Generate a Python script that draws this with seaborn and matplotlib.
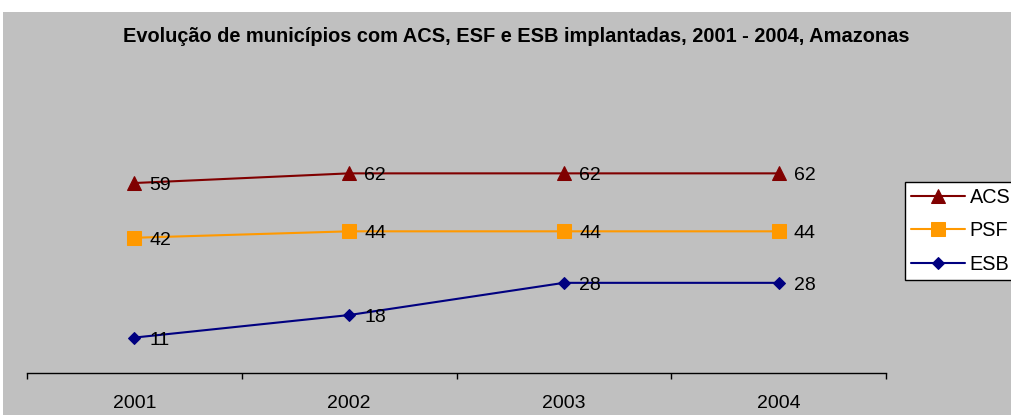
import matplotlib
matplotlib.use('Agg')
import matplotlib.pyplot as plt
from matplotlib.patches import Rectangle
import pandas as pd
import seaborn as sns

years = ['2001', '2002', '2003', '2004']
acs = [59, 62, 62, 62]
psf = [42, 44, 44, 44]
esb = [11, 18, 28, 28]
series_names = ['ACS', 'PSF', 'ESB']

df = pd.DataFrame({
    'pos': list(range(len(years))) * 3,
    'valor': acs + psf + esb,
    'serie': [s for s in series_names for _ in years],
})

sns.set_style('white')
plt.rcParams['font.family'] = ['Liberation Sans', 'DejaVu Sans']
plt.rcParams['text.color'] = 'black'
plt.rcParams['xtick.color'] = 'black'

colors = {'ACS': '#800000', 'PSF': '#FF9900', 'ESB': '#000080'}
markers = {'ACS': '^', 'PSF': 's', 'ESB': 'D'}
msizes = {'ACS': 10, 'PSF': 10, 'ESB': 6.3}

fig = plt.figure(figsize=(10.11, 4.15), dpi=100, facecolor='white')
fig.patches.append(Rectangle((3 / 1011, 0), 1, 1 - 12 / 415, transform=fig.transFigure,
                             facecolor='#C0C0C0', edgecolor='none', zorder=-5))
ax = fig.add_axes([27 / 1011, 1 - 373 / 415, 859 / 1011, 322 / 415])
ax.set_facecolor('none')
ax.set_zorder(1)

for s in series_names:
    d = df[df['serie'] == s]
    sns.lineplot(data=d, x='pos', y='valor', ax=ax, color=colors[s], marker=markers[s],
                 markersize=msizes[s], markeredgecolor=colors[s], linewidth=1.5, label=s)
    for x, y in zip(d['pos'], d['valor']):
        ax.annotate(str(y), (x, y), xytext=(11, -5), textcoords='offset points',
                    ha='left', va='baseline', fontsize=14, color='black')

ax.set_xlim(-0.5, 3.5)
ax.set_ylim(0, 100)
ax.set_xticks([-0.5, 0.5, 1.5, 2.5, 3.5])
ax.set_xticklabels([])
ax.set_xticks(range(len(years)), minor=True)
ax.set_xticklabels(years, minor=True, fontsize=14)
ax.tick_params(axis='x', which='major', direction='out', length=4.5, width=1, color='black', bottom=True)
ax.tick_params(axis='x', which='minor', length=0, pad=15.5)
ax.set_yticks([])
ax.set_xlabel('')
ax.set_ylabel('')
for side in ['top', 'right', 'left']:
    ax.spines[side].set_visible(False)
ax.spines['bottom'].set_color('black')
ax.spines['bottom'].set_linewidth(1)

leg = ax.legend(loc='upper left', bbox_to_anchor=(905 / 1011, 1 - 182 / 415),
                bbox_transform=fig.transFigure, borderaxespad=0, fancybox=False,
                frameon=True, fontsize=14.3, handlelength=2.7, handletextpad=0.25,
                labelspacing=0.72, borderpad=0.3)
leg.get_frame().set_edgecolor('black')
leg.get_frame().set_facecolor('white')
leg.get_frame().set_alpha(1)

fig.text(516 / 1011, 1 - 37 / 415,
         'Evolução de municípios com ACS, ESF e ESB implantadas, 2001 - 2004, Amazonas',
         ha='center', va='center', fontsize=14.4, fontweight='bold')

fig.savefig('out.png', dpi=100, facecolor='white')
